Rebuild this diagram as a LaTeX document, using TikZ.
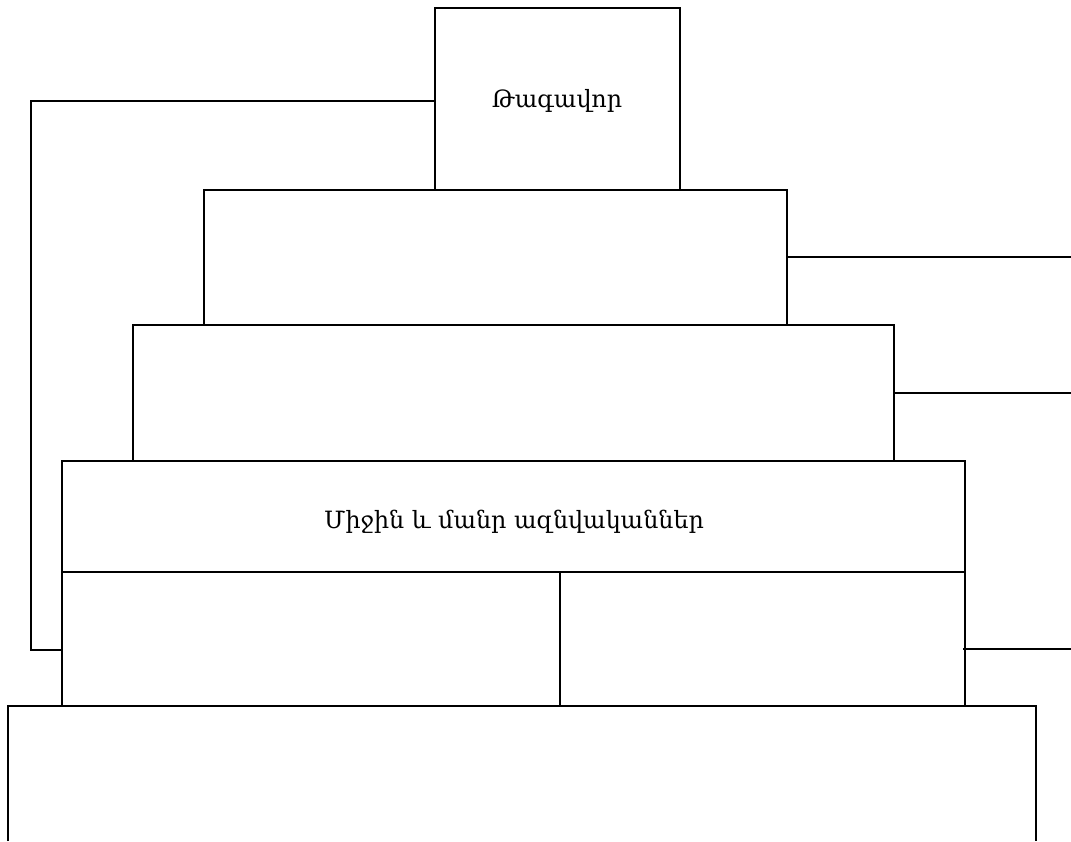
\documentclass[tikz,border=0pt]{standalone}
\usepackage{fontspec}
\newfontfamily\armfont{DejaVu Serif}
\begin{document}
\begin{tikzpicture}[x=1pt,y=-1pt,
  blk/.style={draw=black,line width=2pt,fill=white},
  lnk/.style={draw=black,line width=2pt},
  lbl/.style={font=\armfont\fontsize{23.8}{28}\selectfont,text=black}]
\useasboundingbox (0,0) rectangle (1071,841);
% bottom open box
\draw[lnk] (8,841) -- (8,706) -- (1036,706) -- (1036,841);
\coordinate (bottom) at (522,706);
% stacked boxes
\draw[blk] (62,572) rectangle (560,706);
\node (lowL) at (311,639) {};
\draw[blk] (560,572) rectangle (965,706);
\node (lowR) at (762,639) {};
\draw[blk] (62,461) rectangle (965,572);
\node[lbl] (mid) at (514,522) {Միջին և մանր ազնվականներ};
\draw[blk] (133,325) rectangle (894,461);
\node (b3) at (513,393) {};
\draw[blk] (204,190) rectangle (787,325);
\node (b2) at (495,257) {};
\draw[blk] (435,8) rectangle (680,190);
\node[lbl] (king) at (557,101) {Թագավոր};
% connectors
\coordinate (kingW) at (435,101);
\coordinate (lowW) at (62,650);
\draw[lnk] (kingW) -- (31,101) |- (lowW);
\coordinate (b2E) at (787,257);
\coordinate (r1) at (1071,257);
\draw[lnk] (b2E) -- (r1);
\coordinate (b3E) at (894,393);
\coordinate (r2) at (1071,393);
\draw[lnk] (b3E) -- (r2);
\coordinate (lowE) at (963,649);
\coordinate (r3) at (1071,649);
\draw[lnk] (lowE) -- (r3);
\end{tikzpicture}
\end{document}
